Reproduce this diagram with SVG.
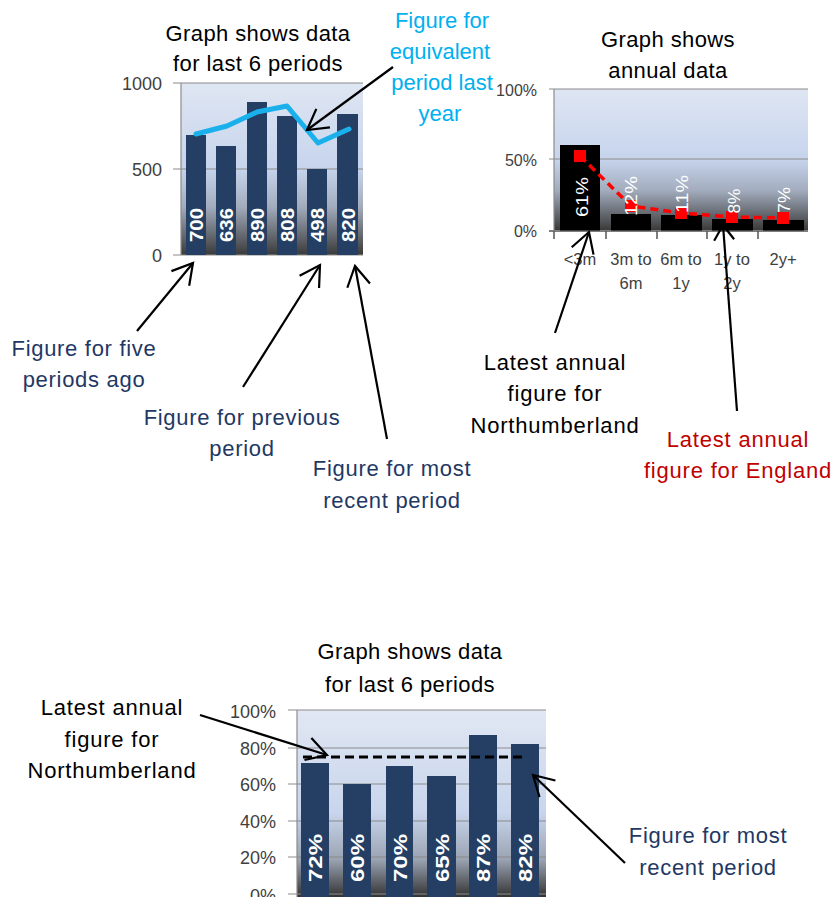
<svg xmlns="http://www.w3.org/2000/svg" width="833" height="897" viewBox="0 0 833 897">
<defs>
<linearGradient id="bg1" x1="0" y1="0" x2="0" y2="1">
<stop offset="0" stop-color="#dfe6f3"/>
<stop offset="0.5" stop-color="#c6d4ec"/>
<stop offset="0.72" stop-color="#a2acbd"/>
<stop offset="1" stop-color="#3a3a3a"/>
</linearGradient>
<linearGradient id="bg3" x1="0" y1="0" x2="0" y2="1">
<stop offset="0" stop-color="#e1e7f3"/>
<stop offset="0.55" stop-color="#c8d5ec"/>
<stop offset="0.8" stop-color="#9aa3b2"/>
<stop offset="1" stop-color="#333"/>
</linearGradient>
<marker id="ah" viewBox="-24 -14 27 28" markerWidth="27" markerHeight="28" refX="0" refY="0" orient="auto" markerUnits="userSpaceOnUse">
<path d="M-20,-11.5 L0,0 L-20,11.5" fill="none" stroke="#000" stroke-width="2.2"/>
</marker>
<marker id="ahs" viewBox="-24 -14 27 28" markerWidth="27" markerHeight="28" refX="0" refY="0" orient="auto" markerUnits="userSpaceOnUse">
<path d="M-15,-10 L0,0 L-15,10" fill="none" stroke="#000" stroke-width="2.2"/>
</marker>
</defs>
<style>
text{font-family:"Liberation Sans",Arial,sans-serif}
.title{font-size:22px;fill:#000;text-anchor:middle;letter-spacing:0.4px}
.ax{font-size:18px;fill:#404040;text-anchor:end}
.ax2{font-size:16px;fill:#404040;text-anchor:end}
.cat{font-size:16.5px;fill:#404040;text-anchor:middle}
.grid{stroke:#8c8c8c;stroke-width:1.2}
.bar{fill:#243f63}
.blk{fill:#000}
.vl{font-size:19px;font-weight:bold;fill:#fff;text-anchor:middle}
.vl2{font-size:17px;fill:#fff;text-anchor:middle}
.navy{font-size:22px;fill:#1f3864;text-anchor:middle;letter-spacing:0.7px}
.cyan{font-size:22px;fill:#00b0f0;text-anchor:middle}
.blkt{font-size:22px;fill:#000;text-anchor:middle;letter-spacing:0.8px}
.redt{font-size:22px;fill:#c00000;text-anchor:middle;letter-spacing:0.8px}
.arr{fill:none;stroke:#000;stroke-width:2.2}
.mk{fill:#ff0000}
</style>
<rect width="833" height="897" fill="#fff"/>

<g id="chart1">
<rect x="181" y="83" width="182" height="172" fill="url(#bg1)"/>
<line class="grid" x1="173" y1="83" x2="363" y2="83"/>
<line class="grid" x1="173" y1="169" x2="363" y2="169"/>
<line class="grid" x1="173" y1="255" x2="363" y2="255"/>
<line class="grid" x1="181" y1="83" x2="181" y2="255"/>
<text class="ax" x="162" y="90">1000</text>
<text class="ax" x="162" y="176">500</text>
<text class="ax" x="162" y="262">0</text>
<text class="title" x="258" y="41">Graph shows data</text>
<text class="title" x="258" y="71">for last 6 periods</text>
<rect class="bar" x="186" y="135" width="20" height="120"/>
<rect class="bar" x="216" y="146" width="20" height="109"/>
<rect class="bar" x="247" y="102" width="20" height="153"/>
<rect class="bar" x="277" y="116" width="20" height="139"/>
<rect class="bar" x="307" y="169" width="20" height="86"/>
<rect class="bar" x="337" y="114" width="21" height="141"/>
<polyline points="196,134 227,126 257,112 287,106 318,143 349,129" fill="none" stroke="#1ab0ec" stroke-width="5" stroke-linejoin="round" stroke-linecap="round"/>
<text class="vl" transform="translate(196,225) rotate(-90)" dy="0.36em" textLength="34" lengthAdjust="spacingAndGlyphs">700</text>
<text class="vl" transform="translate(226,225) rotate(-90)" dy="0.36em" textLength="34" lengthAdjust="spacingAndGlyphs">636</text>
<text class="vl" transform="translate(257,225) rotate(-90)" dy="0.36em" textLength="34" lengthAdjust="spacingAndGlyphs">890</text>
<text class="vl" transform="translate(287,225) rotate(-90)" dy="0.36em" textLength="34" lengthAdjust="spacingAndGlyphs">808</text>
<text class="vl" transform="translate(317,225) rotate(-90)" dy="0.36em" textLength="34" lengthAdjust="spacingAndGlyphs">498</text>
<text class="vl" transform="translate(348,225) rotate(-90)" dy="0.36em" textLength="34" lengthAdjust="spacingAndGlyphs">820</text>
</g>

<g id="label-equivalent">
<text class="cyan" x="442" y="28">Figure for</text>
<text class="cyan" x="440" y="59">equivalent</text>
<text class="cyan" x="442" y="90">period last</text>
<text class="cyan" x="440" y="121">year</text>
</g>
<g id="label-five">
<text class="navy" x="84" y="356">Figure for five</text>
<text class="navy" x="84" y="387">periods ago</text>
</g>
<g id="label-previous">
<text class="navy" x="242" y="425">Figure for previous</text>
<text class="navy" x="242" y="456">period</text>
</g>
<g id="label-recent1">
<text class="navy" x="392" y="476">Figure for most</text>
<text class="navy" x="392" y="508">recent period</text>
</g>

<g id="chart2">
<rect x="554" y="89" width="254" height="141" fill="url(#bg1)"/>
<line class="grid" x1="549" y1="89" x2="808" y2="89"/>
<line class="grid" x1="549" y1="159" x2="808" y2="159"/>
<line class="grid" x1="554" y1="89" x2="554" y2="230"/>
<text class="ax2" x="537" y="96">100%</text>
<text class="ax2" x="537" y="166">50%</text>
<text class="ax2" x="537" y="237">0%</text>
<text class="title" x="668" y="47">Graph shows</text>
<text class="title" x="668" y="78">annual data</text>
<rect class="blk" x="560" y="145" width="40" height="86"/>
<rect class="blk" x="611" y="214" width="40" height="17"/>
<rect class="blk" x="661" y="215" width="41" height="16"/>
<rect class="blk" x="712" y="219" width="41" height="12"/>
<rect class="blk" x="763" y="220" width="41" height="11"/>
<line x1="549" y1="231" x2="808" y2="231" stroke="#555" stroke-width="1.5"/>
<g stroke="#555" stroke-width="1.5">
<line x1="554" y1="231" x2="554" y2="239"/>
<line x1="606" y1="231" x2="606" y2="239"/>
<line x1="657" y1="231" x2="657" y2="239"/>
<line x1="707" y1="231" x2="707" y2="239"/>
<line x1="758" y1="231" x2="758" y2="239"/>
</g>
<polyline points="580,156 631,206 681,213 732,217 783,218" fill="none" stroke="#ff0000" stroke-width="3.5" stroke-dasharray="8,5"/>
<rect class="mk" x="574" y="150" width="12" height="12"/>
<rect class="mk" x="625" y="200" width="12" height="12"/>
<rect class="mk" x="675" y="207" width="12" height="12"/>
<rect class="mk" x="726" y="211" width="12" height="12"/>
<rect class="mk" x="777" y="212" width="12" height="12"/>
<text class="vl2" transform="translate(582,197) rotate(-90)" dy="0.36em" textLength="40" lengthAdjust="spacingAndGlyphs">61%</text>
<text class="vl2" transform="translate(631,196) rotate(-90)" dy="0.36em" textLength="40" lengthAdjust="spacingAndGlyphs">12%</text>
<text class="vl2" transform="translate(682,194) rotate(-90)" dy="0.36em" textLength="38" lengthAdjust="spacingAndGlyphs">11%</text>
<text class="vl2" transform="translate(734,201) rotate(-90)" dy="0.36em" textLength="25" lengthAdjust="spacingAndGlyphs">8%</text>
<text class="vl2" transform="translate(784,200) rotate(-90)" dy="0.36em" textLength="26" lengthAdjust="spacingAndGlyphs">7%</text>
<text class="cat" x="580" y="265">&lt;3m</text>
<text class="cat" x="631" y="265">3m to</text>
<text class="cat" x="631" y="289">6m</text>
<text class="cat" x="681" y="265">6m to</text>
<text class="cat" x="681" y="289">1y</text>
<text class="cat" x="732" y="265">1y to</text>
<text class="cat" x="732" y="289">2y</text>
<text class="cat" x="783" y="265">2y+</text>
</g>

<g id="label-northumberland1">
<text class="blkt" x="555" y="370">Latest annual</text>
<text class="blkt" x="555" y="401">figure for</text>
<text class="blkt" x="555" y="433">Northumberland</text>
</g>
<g id="label-england">
<text class="redt" x="738" y="447">Latest annual</text>
<text class="redt" x="738" y="478">figure for England</text>
</g>

<g id="chart3">
<rect x="297" y="710" width="249" height="187" fill="url(#bg3)"/>
<line class="grid" x1="288" y1="710" x2="546" y2="710"/>
<line class="grid" x1="288" y1="748" x2="546" y2="748"/>
<line class="grid" x1="288" y1="784" x2="546" y2="784"/>
<line class="grid" x1="288" y1="821" x2="546" y2="821"/>
<line class="grid" x1="288" y1="857" x2="546" y2="857"/>
<line class="grid" x1="288" y1="894" x2="546" y2="894"/>
<line class="grid" x1="297" y1="710" x2="297" y2="897"/>
<text class="ax" x="276" y="718">100%</text>
<text class="ax" x="276" y="755">80%</text>
<text class="ax" x="276" y="791">60%</text>
<text class="ax" x="276" y="828">40%</text>
<text class="ax" x="276" y="864">20%</text>
<text class="ax" x="276" y="902">0%</text>
<text class="title" x="410" y="659">Graph shows data</text>
<text class="title" x="410" y="692">for last 6 periods</text>
<rect class="bar" x="301" y="763" width="28" height="134"/>
<rect class="bar" x="343" y="784" width="28" height="113"/>
<rect class="bar" x="386" y="766" width="27" height="131"/>
<rect class="bar" x="427" y="776" width="29" height="121"/>
<rect class="bar" x="469" y="735" width="28" height="162"/>
<rect class="bar" x="511" y="744" width="28" height="153"/>
<line x1="303" y1="757" x2="526" y2="757" stroke="#000" stroke-width="3" stroke-dasharray="9,5"/>
<text class="vl" transform="translate(315,858) rotate(-90)" dy="0.36em" textLength="48" lengthAdjust="spacingAndGlyphs">72%</text>
<text class="vl" transform="translate(357,858) rotate(-90)" dy="0.36em" textLength="48" lengthAdjust="spacingAndGlyphs">60%</text>
<text class="vl" transform="translate(400,858) rotate(-90)" dy="0.36em" textLength="48" lengthAdjust="spacingAndGlyphs">70%</text>
<text class="vl" transform="translate(442,858) rotate(-90)" dy="0.36em" textLength="48" lengthAdjust="spacingAndGlyphs">65%</text>
<text class="vl" transform="translate(483,858) rotate(-90)" dy="0.36em" textLength="48" lengthAdjust="spacingAndGlyphs">87%</text>
<text class="vl" transform="translate(525,858) rotate(-90)" dy="0.36em" textLength="48" lengthAdjust="spacingAndGlyphs">82%</text>
</g>

<g id="label-northumberland2">
<text class="blkt" x="112" y="715">Latest annual</text>
<text class="blkt" x="112" y="747">figure for</text>
<text class="blkt" x="112" y="778">Northumberland</text>
</g>
<g id="label-recent2">
<text class="navy" x="708" y="843">Figure for most</text>
<text class="navy" x="708" y="875">recent period</text>
</g>

<g id="connectors">
<line class="arr" x1="393" y1="67" x2="307" y2="130" marker-end="url(#ah)"/>
<line class="arr" x1="137" y1="331" x2="193" y2="263" marker-end="url(#ah)"/>
<line class="arr" x1="243" y1="387" x2="320" y2="265" marker-end="url(#ah)"/>
<line class="arr" x1="387" y1="439" x2="355" y2="266" marker-end="url(#ah)"/>
<line class="arr" x1="555" y1="333" x2="589" y2="232" marker-end="url(#ah)"/>
<line class="arr" x1="737" y1="411" x2="723" y2="225" marker-end="url(#ahs)"/>
<line class="arr" x1="200" y1="715" x2="327" y2="755" marker-end="url(#ah)"/>
<line class="arr" x1="625" y1="863" x2="533" y2="775" marker-end="url(#ah)"/>
</g>
</svg>
